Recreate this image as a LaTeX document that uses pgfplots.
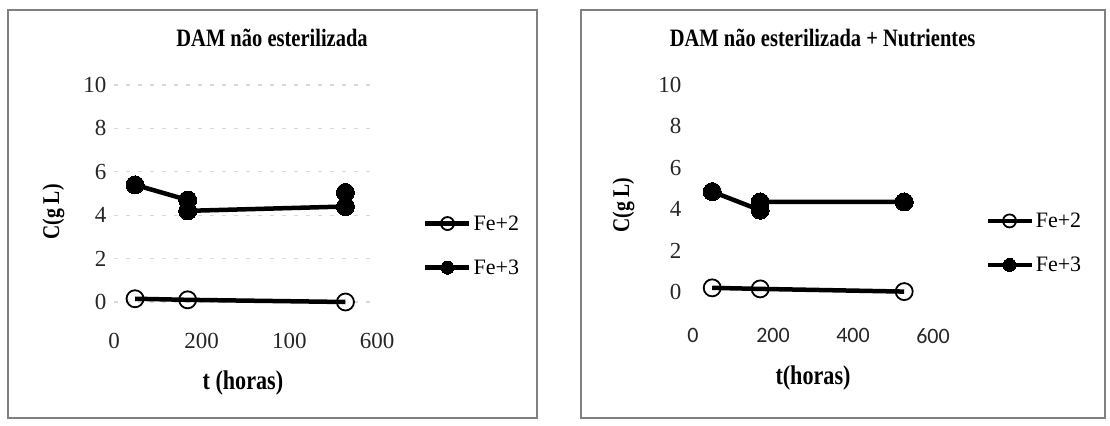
\documentclass[border=0pt]{standalone}
\usepackage{fontspec}
\usepackage{graphicx}
\setmainfont{Liberation Serif}
\newfontfamily\carlito{Carlito}
\usepackage{pgfplots}
\pgfplotsset{compat=1.18}
\newcommand{\cond}[2][25bp]{\scalebox{0.82}[1]{\bfseries\fontsize{#1}{1.2\dimexpr#1\relax}\selectfont #2}}
\pgfplotsset{
  panel/.style={
    scale only axis, anchor=south west,
    xmin=0, xmax=600, ymin=0, ymax=10, clip=false,
    xtick={0,200,400,600}, ytick={0,2,4,6,8,10},
    axis line style={draw=none}, major tick length=0pt,
    /pgf/number format/assume math mode=true,
    tick label style={font=\fontsize{23bp}{26bp}\selectfont, text=black!85},
    title style={anchor=center},
    legend style={draw=none, fill=none, anchor=west, inner sep=0pt,
      font=\fontsize{22bp}{25bp}\selectfont, row sep=24bp,
      /tikz/every even column/.append style={column sep=2bp}},
    legend cell align=left,
    legend image code/.code={\draw[mark repeat=2,mark phase=2,##1,mark size=6.5bp] plot coordinates {(0bp,0bp) (22bp,0bp) (44bp,0bp)};},
  },
  fetwo/.style={black, line width=4.5bp, mark=o, mark size=8.5bp, mark options={line width=1.8bp, fill=none}},
  fethree/.style={black, line width=4.5bp, mark=*, mark size=9bp, mark options={line width=0pt}},
}
\begin{document}
\begin{tikzpicture}[x=1bp,y=1bp]
\path[use as bounding box] (0,0) rectangle (1110,425);
\draw[black!50, line width=1.2bp] (8,415) rectangle (537,7);
\draw[black!50, line width=1.2bp] (581,415) rectangle (1105,7);

\begin{axis}[panel,
  at={(114bp,123bp)}, width=263bp, height=217bp,
  xticklabels={0,200,100,600},
  xticklabel style={yshift=-28bp},
  yticklabel style={xshift=-4bp},
  ymajorgrids, grid style={black!15, line width=1.2bp, dash pattern=on 4bp off 8bp},
  title={\cond{DAM não esterilizada}},
  title style={at={(axis description cs:0.601,1.19)}},
  xlabel={\cond[27bp]{t (horas)}},
  xlabel style={at={(axis description cs:0.49,-0.373)}, anchor=center},
  ylabel={\cond[24bp]{C(g L)}},
  ylabel style={at={(axis description cs:-0.23,0.415)}, anchor=center},
  legend style={at={(axis description cs:1.175,0.26)}},
]
\addplot[fetwo] coordinates {(48,0.15) (168,0.1) (528,0.0)};
\addlegendentry{Fe+2}
\addplot[fethree] coordinates {(48,5.4) (168,4.7) (168,4.2) (528,4.4) (528,5.05)};
\addlegendentry{Fe+3}
\end{axis}

\begin{axis}[panel,
  at={(693bp,133bp)}, width=240bp, height=207bp,
  xticklabels={0,200,400,600},
  xticklabel style={yshift=-33bp, font=\carlito\fontsize{22bp}{25bp}\selectfont},
  yticklabel style={xshift=-8bp},
  title={\cond{DAM não esterilizada + Nutrientes}},
  title style={at={(axis description cs:0.54,1.198)}},
  xlabel={\cond[27bp]{t(horas)}},
  xlabel style={at={(axis description cs:0.5,-0.415)}, anchor=center},
  ylabel={\cond[24bp]{C(g L)}},
  ylabel style={at={(axis description cs:-0.29,0.42)}, anchor=center},
  legend style={at={(axis description cs:1.217,0.237)}},
]
\addplot[fetwo] coordinates {(48,0.2) (168,0.15) (528,0.02)};
\addlegendentry{Fe+2}
\addplot[fethree] coordinates {(48,4.85) (168,3.95) (168,4.35) (528,4.35)};
\addlegendentry{Fe+3}
\end{axis}
\end{tikzpicture}
\end{document}
